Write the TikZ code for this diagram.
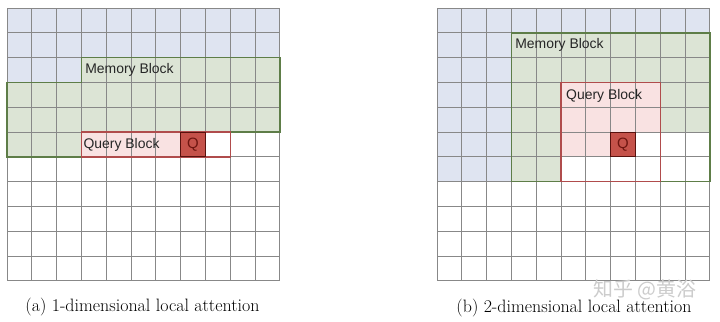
\documentclass[tikz,border=0pt]{standalone}
\usepackage{fontspec}
\newfontfamily\labfont{Liberation Sans}
\newfontfamily\cjkfont{Noto Sans CJK SC}
\definecolor{cblue}{HTML}{DFE4F1}
\definecolor{cgreen}{HTML}{DCE4D5}
\definecolor{cpink}{HTML}{F9E2E2}
\definecolor{cq}{HTML}{C5524A}
\definecolor{cqtext}{HTML}{6E1510}
\definecolor{cgrid}{HTML}{888888}
\definecolor{cgline}{HTML}{5E7D48}
\definecolor{crline}{HTML}{B04C4C}
\tikzset{
  gridlines/.style={draw=cgrid, line width=0.9bp},
  memline/.style={draw=cgline, line width=1.5bp},
  qline/.style={draw=crline, line width=1.4bp},
  qcell/.style={fill=cq, draw=cqtext!80!black, line width=1bp},
  blocklabel/.style={font=\labfont\fontsize{14}{16}\selectfont, text=black!85, anchor=west, inner sep=0pt},
  qlabel/.style={font=\labfont\fontsize{15}{17}\selectfont, text=cqtext, inner sep=0pt},
  caption/.style={font=\fontsize{18}{21}\selectfont, inner sep=0pt},
}
\begin{document}
\begin{tikzpicture}[x=1bp,y=-1bp]
\useasboundingbox (0,0) rectangle (720,321);
\fill[white] (0,0) rectangle (720,321);
% ---------- left grid: 1-dimensional ----------
\begin{scope}[shift={(7bp,-8bp)}, x=24.8bp, y=-24.8bp]
  \fill[cblue] (0,0) rectangle (11,2);
  \fill[cblue] (0,2) rectangle (3,3);
  \fill[cgreen] (3,2) -- (11,2) -- (11,5) -- (3,5) -- (3,6) -- (0,6) -- (0,3) -- (3,3) -- cycle;
  \fill[cpink] (3,5) rectangle (7,6);
  \foreach \i in {0,...,11} {
    \draw[gridlines] (\i,0) -- (\i,11);
    \draw[gridlines] (0,\i) -- (11,\i);
  }
  \draw[memline] (3,2) -- (11,2) -- (11,5) -- (3,5) -- (3,6) -- (0,6) -- (0,3) -- (3,3) -- cycle;
  \draw[qline] (3,5) rectangle (9,6);
  \draw[qcell] (7,5) rectangle (8,6);
  \node[blocklabel] (memA) at (3.15,2.5) {Memory Block};
  \node[blocklabel] (qryA) at (3.08,5.5) {Query Block};
  \node[qlabel] (qA) at (7.5,5.5) {Q};
\end{scope}
% ---------- right grid: 2-dimensional ----------
\begin{scope}[shift={(437bp,-8bp)}, x=24.8bp, y=-24.8bp]
  \fill[cblue] (0,0) rectangle (11,1);
  \fill[cblue] (0,1) rectangle (3,7);
  \fill[cgreen] (3,1) rectangle (11,7);
  \fill[white] (5,5) rectangle (11,7);
  \fill[cpink] (5,3) rectangle (9,5);
  \fill[cpink] (5,5) rectangle (7,6);
  \foreach \i in {0,...,11} {
    \draw[gridlines] (\i,0) -- (\i,11);
    \draw[gridlines] (0,\i) -- (11,\i);
  }
  \draw[memline] (3,1) rectangle (11,7);
  \draw[qline] (5,3) rectangle (9,7);
  \draw[qcell] (7,5) rectangle (8,6);
  \node[blocklabel] (memB) at (3.15,1.5) {Memory Block};
  \node[blocklabel] (qryB) at (5.2,3.55) {Query Block};
  \node[qlabel] (qB) at (7.5,5.5) {Q};
\end{scope}
% ---------- captions ----------
\node[caption] (capA) at (142.5,307) {(a) 1-dimensional local attention};
\node[caption] (capB) at (574,308) {(b) 2-dimensional local attention};
\node[font=\cjkfont\fontsize{20}{22}\selectfont, text=black!20, inner sep=0pt] (wm) at (645,290) {知乎 @黄浴};
\end{tikzpicture}
\end{document}
